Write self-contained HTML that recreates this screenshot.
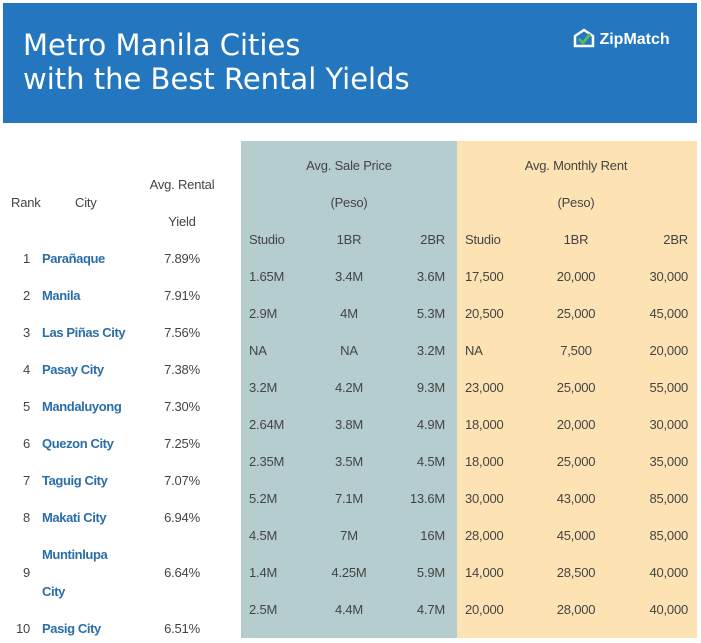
<!DOCTYPE html>
<html><head><meta charset="utf-8">
<style>
body{margin:0;width:701px;height:643px;background:#fff;position:relative;overflow:hidden;font-family:"Liberation Sans",Arial,sans-serif;}
.t{position:absolute;font-size:13px;color:#444;white-space:nowrap;line-height:16px;letter-spacing:-0.2px;}
.c{color:#2a6ea8;font-weight:bold;letter-spacing:-0.4px;}
</style></head><body>
<div style="position:absolute;left:3px;top:3px;width:694px;height:120px;background:#2477be;"></div>
<div style="position:absolute;left:23px;top:28px;color:#fff;font-size:29px;line-height:34px;font-family:'DejaVu Sans','Liberation Sans',sans-serif;letter-spacing:0px;">Metro Manila Cities<br>with the Best Rental Yields</div>
<div style="position:absolute;left:573px;top:28px;color:#fff;font-weight:bold;font-size:16px;">
<svg width="22" height="20" style="vertical-align:-4px" viewBox="0 0 22 20"><path d="M2 8 L11 2 L20 8 V18 H2 Z" fill="none" stroke="#fff" stroke-width="2.5"/><path d="M6 11 L10 15 L17 6" fill="none" stroke="#5cb85c" stroke-width="3"/></svg> ZipMatch</div>
<div style="position:absolute;left:241px;top:141px;width:216px;height:497px;background:#b5cdcf;"></div>
<div style="position:absolute;left:457px;top:141px;width:240px;height:497px;background:#fde3b4;"></div>
<div id="tbl"></div>
<script>
const ranks=["1","2","3","4","5","6","7","8","9","10"];
const cities=["Parañaque","Manila","Las Piñas City","Pasay City","Mandaluyong","Quezon City","Taguig City","Makati City","Muntinlupa|City","Pasig City"];
const yields=["7.89%","7.91%","7.56%","7.38%","7.30%","7.25%","7.07%","6.94%","6.64%","6.51%"];
const saleStudio=["1.65M","2.9M","NA","3.2M","2.64M","2.35M","5.2M","4.5M","1.4M","2.5M"];
const sale1BR=["3.4M","4M","NA","4.2M","3.8M","3.5M","7.1M","7M","4.25M","4.4M"];
const sale2BR=["3.6M","5.3M","3.2M","9.3M","4.9M","4.5M","13.6M","16M","5.9M","4.7M"];
const rentStudio=["17,500","20,500","NA","23,000","18,000","18,000","30,000","28,000","14,000","20,000"];
const rent1BR=["20,000","25,000","7,500","25,000","20,000","25,000","43,000","45,000","28,500","28,000"];
const rent2BR=["30,000","45,000","20,000","55,000","30,000","35,000","85,000","85,000","40,000","40,000"];
const root=document.getElementById('tbl');
function put(txt,x,y,align,cls,name){
  const d=document.createElement('div');
  d.className='t'+(cls?' '+cls:'');
  d.textContent=txt;
  
  
  let tr='translateY(-50%)';
  if(align==='c')tr='translate(-50%,-50%)';
  if(align==='r')tr='translate(-100%,-50%)';
  d.style.left=x+'px';d.style.top=y+'px';d.style.transform=tr;
  root.appendChild(d);
}
put('Rank',11,203,'l','','rank-header');
put('City',75,203,'l','','city-header');
put('Avg. Rental',182,185,'c','','yield-header');
put('Yield',182,222,'c','','yield-header-2');
put('Avg. Sale Price',349,166,'c','','sale-price-header');
put('(Peso)',349,203,'c','','sale-price-unit');
put('Avg. Monthly Rent',576,166,'c','','rent-header');
put('(Peso)',576,203,'c','','rent-unit');
put('Studio',249,240,'l','','sale-studio-header');
put('1BR',349,240,'c','','sale-1br-header');
put('2BR',445,240,'r','','sale-2br-header');
put('Studio',465,240,'l','','rent-studio-header');
put('1BR',576,240,'c','','rent-1br-header');
put('2BR',688,240,'r','','rent-2br-header');
const leftY=[259,296,333,370,407,444,481,518,573,629];
for(let i=0;i<ranks.length;i++){
  const y=leftY[i];
  put(ranks[i],30,y,'r','','rank-'+ranks[i]);
  const parts=cities[i].split('|');
  if(parts.length>1){put(parts[0],42,y-18,'l','c','city-'+ranks[i]);put(parts[1],42,y+19,'l','c','city-'+ranks[i]+'-cont');}
  else put(parts[0],42,y,'l','c','city-'+ranks[i]);
  put(yields[i],182,y,'c','','yield-'+ranks[i]);
  const ry=277+37*i;
  put(saleStudio[i],249,ry,'l','','sale-studio-'+ranks[i]);
  put(sale1BR[i],349,ry,'c','','sale-1br-'+ranks[i]);
  put(sale2BR[i],445,ry,'r','','sale-2br-'+ranks[i]);
  put(rentStudio[i],465,ry,'l','','rent-studio-'+ranks[i]);
  put(rent1BR[i],576,ry,'c','','rent-1br-'+ranks[i]);
  put(rent2BR[i],688,ry,'r','','rent-2br-'+ranks[i]);
}
</script>
</body></html>
